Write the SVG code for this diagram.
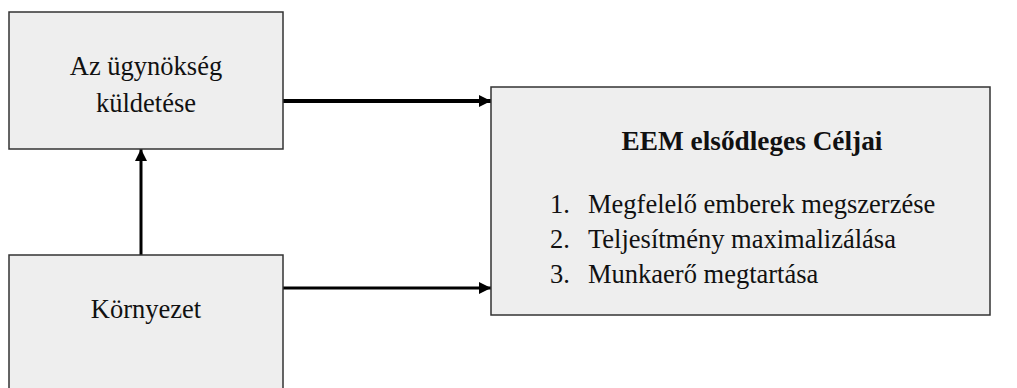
<svg xmlns="http://www.w3.org/2000/svg" width="1017" height="388" viewBox="0 0 1017 388">
<defs>
<style>
.box{fill:#eeeeee;stroke:#333333;stroke-width:1.5}
.t{font-family:"Liberation Serif","Times New Roman",serif;font-size:26.5px;fill:#111111}
.b{font-weight:bold;font-size:27.3px}
.c{stroke:#000;fill:none}
</style>
<marker id="ah" viewBox="0 0 10 10" refX="10" refY="5" markerWidth="14" markerHeight="12" markerUnits="userSpaceOnUse" orient="auto">
<path d="M0,0 L10,5 L0,10 z" fill="#000"/>
</marker>
</defs>
<rect width="1017" height="388" fill="#ffffff"/>
<g id="connectors">
<line class="c" x1="283" y1="101" x2="491" y2="101" stroke-width="4" marker-end="url(#ah)"/>
<line class="c" x1="283" y1="288" x2="491" y2="288" stroke-width="3" marker-end="url(#ah)"/>
<line class="c" x1="141" y1="255" x2="141" y2="149" stroke-width="3" marker-end="url(#ah)"/>
</g>
<g id="node-kuldetes">
<rect class="box" x="9" y="12" width="274" height="137"/>
<text class="t" x="146" y="75" text-anchor="middle">Az ügynökség</text>
<text class="t" x="146" y="112" text-anchor="middle">küldetése</text>
</g>
<g id="node-kornyezet">
<rect class="box" x="9" y="255" width="274" height="140"/>
<text class="t" x="146" y="318" text-anchor="middle">Környezet</text>
</g>
<g id="node-celjai">
<rect class="box" x="491" y="87" width="499" height="228"/>
<text class="t b" x="752" y="150" text-anchor="middle">EEM elsődleges Céljai</text>
<text class="t" x="550" y="213">1.</text>
<text class="t" x="588" y="213">Megfelelő emberek megszerzése</text>
<text class="t" x="550" y="248">2.</text>
<text class="t" x="588" y="248">Teljesítmény maximalizálása</text>
<text class="t" x="550" y="283">3.</text>
<text class="t" x="588" y="283">Munkaerő megtartása</text>
</g>
</svg>
